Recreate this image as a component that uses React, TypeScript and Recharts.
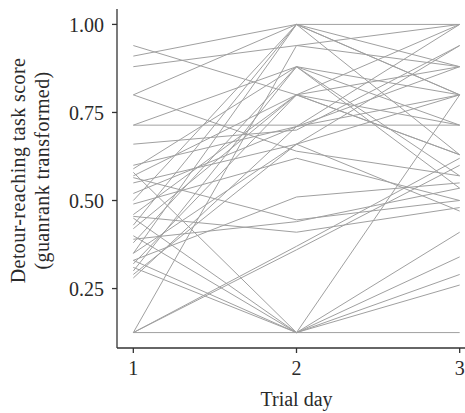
import React from 'react';
import { LineChart, Line, XAxis, YAxis } from 'recharts';

// one entry per subject
const day1 = [
  0.125, 0.125, 0.125, 0.125, 0.33, 0.31, 0.58, 0.45, 0.40, 0.94,
  0.91, 0.88, 0.80, 0.80, 0.714, 0.714, 0.66, 0.35, 0.59, 0.57,
  0.565, 0.455, 0.33, 0.52, 0.49, 0.46, 0.39, 0.35, 0.30, 0.28,
  0.55, 0.29, 0.42, 0.50, 0.38, 0.32, 0.60, 0.43,
];
const day2 = [
  0.125, 0.37, 0.36, 0.94, 0.125, 0.125, 0.125, 0.125, 0.125, 0.80,
  1.0, 0.94, 1.0, 0.64, 0.714, 0.88, 0.70, 1.0, 0.88, 0.80,
  0.445, 0.41, 0.51, 0.71, 0.62, 0.80, 0.44, 0.66, 0.88, 0.71,
  0.66, 0.66, 0.80, 1.0, 0.88, 0.80, 0.71, 1.0,
];
const day3 = [
  0.125, 0.62, 0.60, 0.88, 0.41, 0.34, 0.29, 0.26, 0.80, 0.63,
  1.0, 1.0, 0.88, 0.57, 0.714, 0.80, 0.94, 0.80, 0.535, 1.0,
  0.50, 0.48, 0.55, 0.88, 0.50, 0.63, 0.535, 0.80, 0.714, 1.0,
  0.47, 0.94, 0.88, 0.80, 0.57, 0.714, 0.80, 0.63,
];
const days = [1, 2, 3];
const yTicks = [0.25, 0.5, 0.75, 1.0];

const byDay = [day1, day2, day3];
const rows = days.map((d, i) => {
  const row: Record<string, number> = { day: d };
  byDay[i].forEach((v, s) => {
    row[`s${s}`] = v;
  });
  return row;
});

const FONT = '"Liberation Serif", "DejaVu Serif", serif';
const AXIS = '#333333';
const TEXT = '#2a2a2a';

const YTitle = (props: any) => {
  const { viewBox } = props;
  const cy = viewBox.y + viewBox.height / 2 - 8;
  return (
    <g fill={TEXT} fontFamily={FONT} fontSize={20} textAnchor="middle">
      <text transform={`translate(25, ${cy}) rotate(-90)`} letterSpacing={0.4}>Detour-reaching task score</text>
      <text transform={`translate(49, ${cy}) rotate(-90)`} letterSpacing={0.4}>(guanrank transformed)</text>
    </g>
  );
};

export default function App() {
  return (
    <div style={{ position: 'absolute', left: 0, top: 0, width: 465, height: 413, overflow: 'hidden', background: '#fff' }}>
      <LineChart width={480} height={413} data={rows} margin={{ top: 9, right: 4, bottom: 0, left: 0 }}>
        <XAxis
          dataKey="day"
          type="number"
          domain={[0.9, 3.1]}
          ticks={days}
          height={65}
          tickSize={5}
          tickMargin={8}
          axisLine={{ stroke: AXIS, strokeWidth: 1.3 }}
          tickLine={{ stroke: AXIS, strokeWidth: 1.3 }}
          tick={{ fill: TEXT, fontFamily: FONT, fontSize: 20 }}
          label={{ value: 'Trial day', position: 'insideBottom', offset: 7, fill: TEXT, fontFamily: FONT, fontSize: 20 }}
        />
        <YAxis
          type="number"
          domain={[0.08125, 1.04375]}
          ticks={yTicks}
          width={117}
          tickSize={5}
          tickMargin={8}
          tickFormatter={(v: number) => v.toFixed(2)}
          axisLine={{ stroke: AXIS, strokeWidth: 1.3 }}
          tickLine={{ stroke: AXIS, strokeWidth: 1.3 }}
          tick={{ fill: TEXT, fontFamily: FONT, fontSize: 20 }}
          label={<YTitle />}
        />
        {day1.map((_, s) => (
          <Line
            key={s}
            dataKey={`s${s}`}
            stroke="#a0a0a0"
            strokeWidth={1}
            dot={false}
            activeDot={false}
            isAnimationActive={false}
          />
        ))}
      </LineChart>
    </div>
  );
}
